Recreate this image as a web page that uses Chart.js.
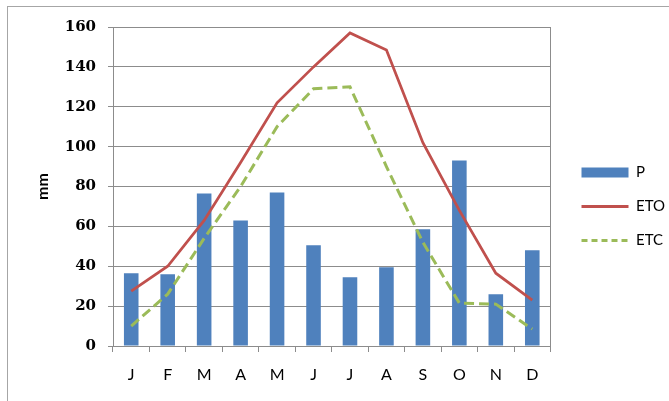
<!DOCTYPE html>
<html>
<head>
<meta charset="utf-8">
<script src="https://cdn.jsdelivr.net/npm/chart.js@4/dist/chart.umd.min.js"></script>
<style>
html,body{margin:0;padding:0;background:#fff;}
#wrap{position:relative;width:669px;height:401px;}
</style>
</head>
<body>
<div id="wrap"><canvas id="c" width="669" height="401"></canvas></div>
<script>
const months = ['J','F','M','A','M','J','J','A','S','O','N','D'];
const P   = [36.5, 36, 76.5, 63, 77, 50.5, 34.5, 39.5, 58.5, 93, 26, 48];
const ETO = [27.5, 40, 63, 92, 122, 140, 157, 148.5, 102, 68, 36.5, 23];
const ETC = [10, 26, 54, 80, 110, 129, 130, 90, 52, 21.5, 21, 8.5];
const yTicks = [0, 20, 40, 60, 80, 100, 120, 140, 160];
const seriesNames = ['P', 'ETO', 'ETC'];
const yTitle = 'mm';

const BLUE = '#4F81BD', RED = '#C0504D', GREEN = '#9BBB59', GRID = '#8c8c8c';

const framePlugin = {
  id: 'frame',
  beforeDraw(chart) {
    const ctx = chart.ctx;
    ctx.save();
    ctx.fillStyle = '#fff';
    ctx.fillRect(0, 0, chart.width, chart.height);
    ctx.strokeStyle = '#a6a6a6';
    ctx.lineWidth = 1;
    ctx.strokeRect(7.5, 6.5, 720, 500);
    ctx.restore();
  }
};

new Chart(document.getElementById('c'), {
  type: 'bar',
  data: {
    labels: months,
    datasets: [
      { label: seriesNames[0], data: P, backgroundColor: BLUE, borderWidth: 0,
        barPercentage: 0.4, categoryPercentage: 1, order: 2 },
      { label: seriesNames[1], type: 'line', data: ETO, borderColor: RED, backgroundColor: RED,
        borderWidth: 2.75, pointRadius: 0, tension: 0, fill: false, order: 0 },
      { label: seriesNames[2], type: 'line', data: ETC, borderColor: GREEN, backgroundColor: GREEN,
        borderWidth: 3, borderDash: [10, 5], pointRadius: 0, tension: 0, fill: false, order: 1 }
    ]
  },
  options: {
    responsive: false,
    animation: false,
    devicePixelRatio: 1,
    layout: { padding: { top: 12, right: -6, bottom: 0, left: 0 } },
    plugins: {
      tooltip: { enabled: false },
      legend: {
        display: true,
        position: 'right',
        align: 'center',
        labels: {
          usePointStyle: true,
          pointStyleWidth: 47,
          boxHeight: 10,
          padding: 19,
          color: '#000',
          font: { family: 'Lato', size: 15 },
          sort: (a, b) => a.datasetIndex - b.datasetIndex,
          generateLabels(chart) {
            const items = Chart.defaults.plugins.legend.labels.generateLabels(chart);
            items.forEach(it => {
              if (it.datasetIndex === 0) {
                it.pointStyle = 'rect'; it.fillStyle = BLUE; it.strokeStyle = BLUE; it.lineWidth = 0;
              } else if (it.datasetIndex === 1) {
                it.pointStyle = 'line'; it.strokeStyle = RED; it.lineWidth = 3; it.lineDash = [];
              } else {
                it.pointStyle = 'line'; it.strokeStyle = GREEN; it.lineWidth = 3; it.lineDash = [6, 4];
              }
            });
            return items;
          }
        }
      }
    },
    scales: {
      x: {
        offset: true,
        grid: { offset: true, drawOnChartArea: false, drawTicks: true, tickLength: 6, color: GRID },
        border: { display: true, color: GRID },
        ticks: { color: '#000', padding: 13, font: { family: 'Lato', size: 16 } },
        afterFit(s) { s.height = 55; }
      },
      xTop: {
        type: 'linear', position: 'top', display: true,
        grid: { display: false }, border: { display: false }, ticks: { display: false },
        afterFit(s) { s.height = 15; }
      },
      y: {
        min: yTicks[0], max: yTicks[yTicks.length - 1],
        afterBuildTicks(s) { s.ticks = yTicks.map(v => ({ value: v })); },
        grid: { color: GRID, tickLength: 5, drawTicks: true },
        border: { display: true, color: GRID },
        ticks: { color: '#000', padding: 12, font: { family: 'DejaVu Serif', size: 15, weight: 'bold' } },
        title: { display: true, text: yTitle, color: '#000', padding: { top: 33, bottom: 0 },
                 font: { family: 'Lato', size: 16, weight: 'bold' } },
        afterFit(s) { s.width = 113; }
      },
      yRight: {
        type: 'linear', position: 'right', display: true,
        min: yTicks[0], max: yTicks[yTicks.length - 1],
        grid: { display: false }, border: { display: true, color: GRID }, ticks: { display: false },
        afterFit(s) { s.width = 12; }
      }
    }
  },
  plugins: [framePlugin]
});
</script>
</body>
</html>
